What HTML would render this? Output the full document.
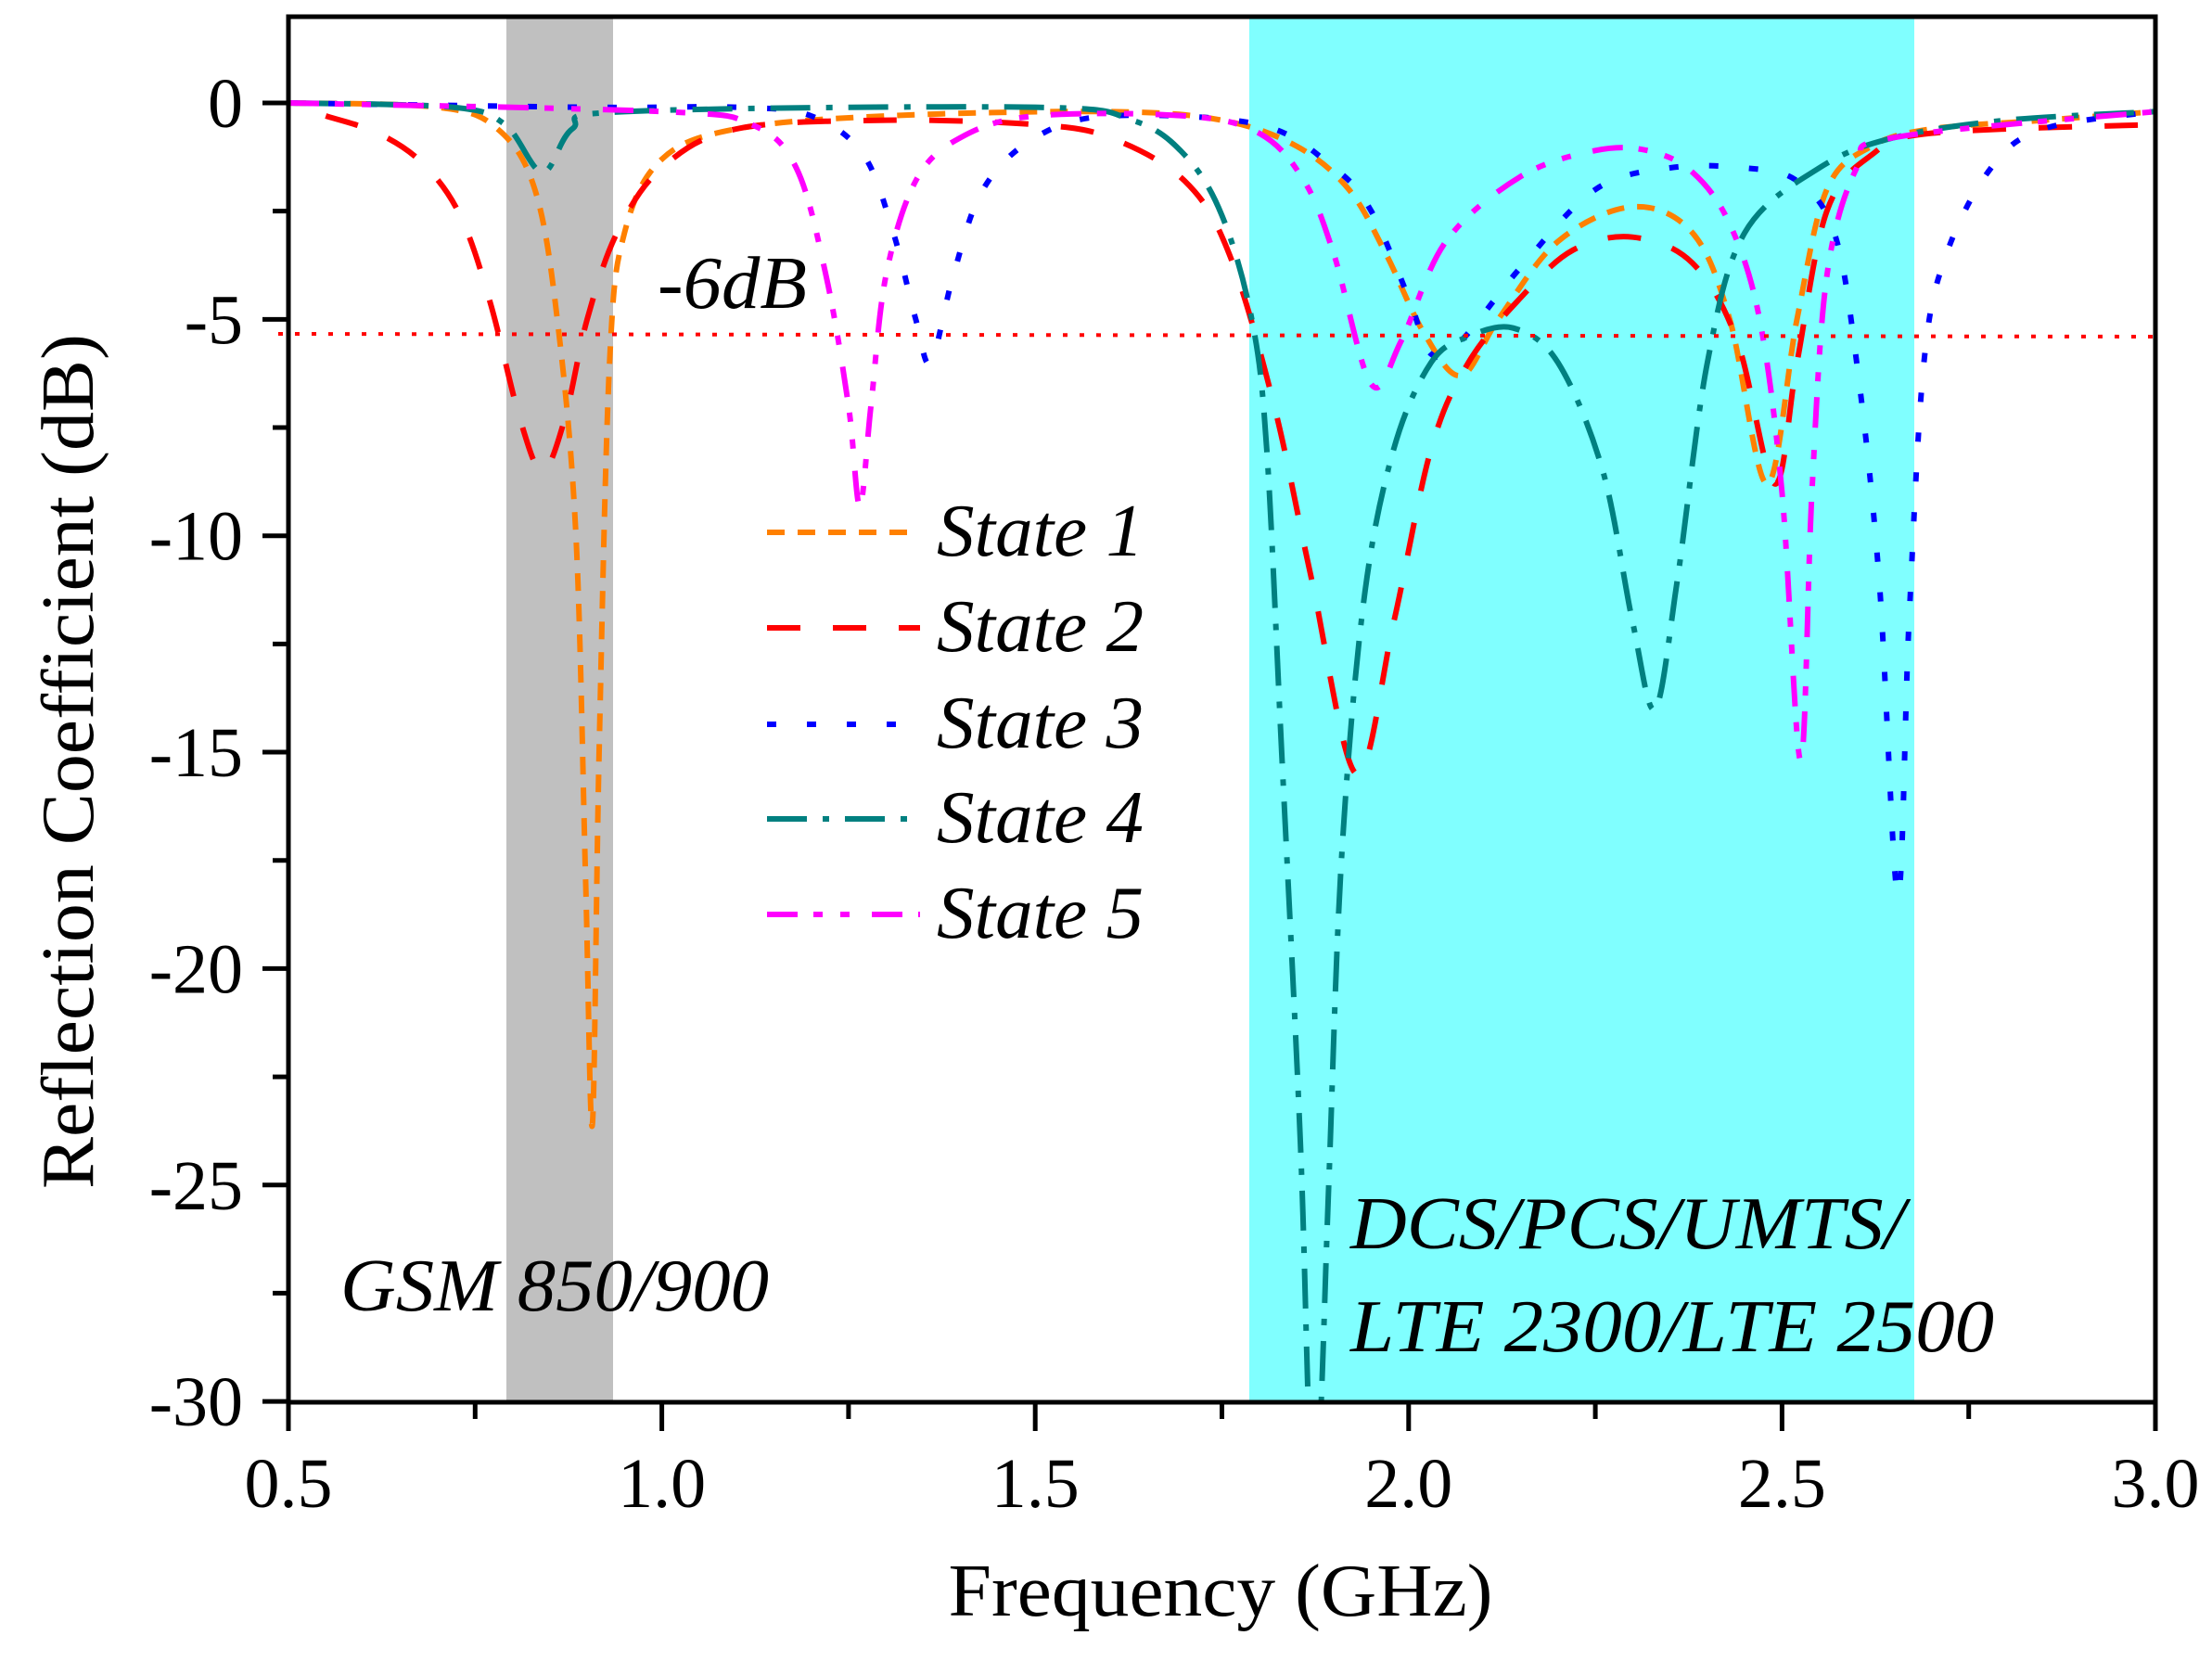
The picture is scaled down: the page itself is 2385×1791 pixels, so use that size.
<!DOCTYPE html>
<html><head><meta charset="utf-8"><style>
html,body{margin:0;padding:0;background:#fff}
svg{display:block}
text{font-family:"Liberation Serif",serif;fill:#000}
</style></head><body>
<svg id="s" width="2385" height="1791" viewBox="0 0 2385 1791" xmlns="http://www.w3.org/2000/svg">
<rect x="0" y="0" width="2385" height="1791" fill="#fff"/>
<rect x="546" y="20" width="115" height="1492" fill="#c0c0c0"/>
<rect x="1347" y="20" width="717" height="1492" fill="#80ffff"/>
<g id="curves"></g>
<line x1="300" y1="360" x2="2324" y2="363" stroke="#ff0000" stroke-width="4" stroke-dasharray="5,13"/>
<rect x="311" y="18" width="2013" height="1494" fill="none" stroke="#000" stroke-width="5"/>
<g id="ticks" stroke="#000" stroke-width="5"></g>
<g font-size="76" id="labels"></g>
<text x="1316" y="1742" font-size="80" text-anchor="middle" textLength="587" lengthAdjust="spacingAndGlyphs">Frequency (GHz)</text>
<text transform="translate(100,821) rotate(-90)" font-size="80" text-anchor="middle" textLength="922" lengthAdjust="spacingAndGlyphs">Reflection Coefficient (dB)</text>
<g font-style="italic" font-size="80">
<text x="709" y="332" textLength="161" lengthAdjust="spacingAndGlyphs">-6dB</text>
<text x="367" y="1413" textLength="462" lengthAdjust="spacingAndGlyphs">GSM 850/900</text>
<text x="1456" y="1346" textLength="598" lengthAdjust="spacingAndGlyphs">DCS/PCS/UMTS/</text>
<text x="1456" y="1457" textLength="694" lengthAdjust="spacingAndGlyphs">LTE 2300/LTE 2500</text>
</g>
<g id="legend" font-style="italic" font-size="80"></g>
</svg>
<script>
var X=function(f){return 311+(f-0.5)*805.2;};
var Y=function(d){return 111-d*46.67;};
var S=[
{c:"#ff8000",d:"19,14",p:[[0.5,0],[0.7,-0.1],[0.78,-0.6],[0.83,-2],[0.86,-5],[0.885,-10],[0.898,-18],[0.907,-23.6],[0.916,-15],[0.93,-6],[0.95,-3],[1.0,-1.3],[1.1,-0.6],[1.3,-0.3],[1.6,-0.2],[1.75,-0.4],[1.85,-1.0],[1.92,-2],[1.97,-3.5],[2.02,-5.3],[2.07,-6.3],[2.12,-5],[2.2,-3.2],[2.3,-2.4],[2.38,-3],[2.43,-5],[2.48,-8.8],[2.52,-5],[2.56,-2],[2.62,-1],[2.7,-0.6],[2.85,-0.4],[3.0,-0.2]]},
{c:"#ff0000",d:"36,35",p:[[0.55,-0.3],[0.62,-0.7],[0.68,-1.4],[0.73,-2.6],[0.77,-4.6],[0.81,-7.3],[0.84,-8.5],[0.87,-7.3],[0.9,-5],[0.94,-3],[1.0,-1.5],[1.1,-0.6],[1.3,-0.4],[1.5,-0.5],[1.6,-0.8],[1.7,-1.8],[1.76,-3.5],[1.82,-7],[1.87,-11],[1.93,-15.5],[1.98,-12],[2.03,-8],[2.08,-6],[2.15,-4.5],[2.22,-3.4],[2.3,-3.1],[2.38,-3.7],[2.44,-5.5],[2.49,-8.8],[2.52,-6],[2.56,-2.5],[2.62,-1.2],[2.7,-0.7],[3.0,-0.5]]},
{c:"#0000ff",d:"10,33",p:[[0.5,0],[0.9,-0.1],[1.1,-0.1],[1.2,-0.3],[1.27,-1.2],[1.31,-3],[1.34,-5],[1.36,-6],[1.39,-4],[1.43,-2],[1.5,-0.8],[1.6,-0.3],[1.8,-0.5],[1.9,-1.5],[1.95,-2.5],[2.0,-4.5],[2.03,-5.8],[2.07,-5.5],[2.15,-3.8],[2.25,-2],[2.35,-1.5],[2.45,-1.5],[2.52,-1.8],[2.57,-3],[2.6,-6],[2.63,-11],[2.655,-18.3],[2.67,-12],[2.69,-6],[2.72,-3.5],[2.78,-1.5],[2.85,-0.6],[3.0,-0.2]]},
{c:"#008080",d:"43,17,7,17",p:[[0.5,0],[0.72,-0.1],[0.79,-0.5],[0.84,-1.6],[0.88,-0.6],[0.95,-0.2],[1.5,-0.1],[1.63,-0.4],[1.7,-1.2],[1.75,-2.6],[1.79,-5],[1.81,-8],[1.83,-15],[1.855,-24],[1.868,-31],[1.88,-31],[1.893,-25],[1.91,-17.5],[1.94,-11.5],[1.98,-8],[2.03,-6],[2.08,-5.4],[2.14,-5.2],[2.2,-6],[2.26,-8.5],[2.3,-12],[2.33,-14],[2.36,-11],[2.4,-6],[2.45,-3],[2.55,-1.5],[2.65,-0.8],[2.8,-0.4],[3.0,-0.2]]},
{c:"#ff00ff",d:"33,17,10,19,10,24",p:[[0.5,0],[1.0,-0.2],[1.12,-0.5],[1.18,-1.5],[1.22,-4],[1.25,-7],[1.265,-9.3],[1.28,-7],[1.3,-4],[1.34,-1.8],[1.4,-0.8],[1.5,-0.3],[1.7,-0.3],[1.8,-0.7],[1.86,-1.8],[1.9,-3.5],[1.95,-6.5],[1.99,-5.5],[2.05,-3.2],[2.15,-1.7],[2.25,-1.1],[2.32,-1.1],[2.38,-1.6],[2.43,-2.8],[2.47,-5],[2.5,-9],[2.525,-15.2],[2.54,-9],[2.56,-4],[2.6,-1.5],[2.65,-0.8],[3.0,-0.2]]}
];
var NS="http://www.w3.org/2000/svg";
function el(n,a,par){var e=document.createElementNS(NS,n);for(var k in a)e.setAttribute(k,a[k]);par.appendChild(e);return e;}
var g=document.getElementById("curves");
el("clipPath",{id:"cp"},g);
el("rect",{x:311,y:18,width:2013,height:1494},g.lastChild);
S.forEach(function(s){
 var P=s.p.map(function(q){return [X(q[0]),Y(q[1])];});
 var d="M"+P[0][0]+","+P[0][1];
 for(var i=0;i<P.length-1;i++){
  var p0=P[i-1]||P[i],p1=P[i],p2=P[i+1],p3=P[i+2]||P[i+1];
  var t=6;
  d+=" C"+(p1[0]+(p2[0]-p0[0])/t)+","+(p1[1]+(p2[1]-p0[1])/t)+" "+(p2[0]-(p3[0]-p1[0])/t)+","+(p2[1]-(p3[1]-p1[1])/t)+" "+p2[0]+","+p2[1];
 }
 el("path",{d:d,fill:"none",stroke:s.c,"stroke-width":6,"stroke-dasharray":s.d,"clip-path":"url(#cp)"},g);
});
var tk=document.getElementById("ticks"),lb=document.getElementById("labels");
for(var i=0;i<=10;i++){var f=0.5+i*0.25,x=X(f),maj=i%2==0;
 el("line",{x1:x,y1:1512,x2:x,y2:1512+(maj?31:18)},tk);
 if(maj){var t=el("text",{x:x,y:1625,"text-anchor":"middle"},lb);t.textContent=f.toFixed(1);}}
for(var i=0;i<=12;i++){var v=-i*2.5,y=Y(v),maj=i%2==0;
 el("line",{x1:311,y1:y,x2:311-(maj?28:17),y2:y},tk);
 if(maj){var t=el("text",{x:262,y:y+26,"text-anchor":"end"},lb);t.textContent=v==0?"0":String(v);}}
var lg=document.getElementById("legend"),ly=[574,677,781,883,986];
S.forEach(function(s,i){
 el("line",{x1:827,y1:ly[i],x2:992,y2:ly[i],stroke:s.c,"stroke-width":6,"stroke-dasharray":s.d},lg);
 var t=el("text",{x:1010,y:ly[i]+25,textLength:223,lengthAdjust:"spacingAndGlyphs"},lg);t.textContent="State "+(i+1);
});
</script>
</body></html>
